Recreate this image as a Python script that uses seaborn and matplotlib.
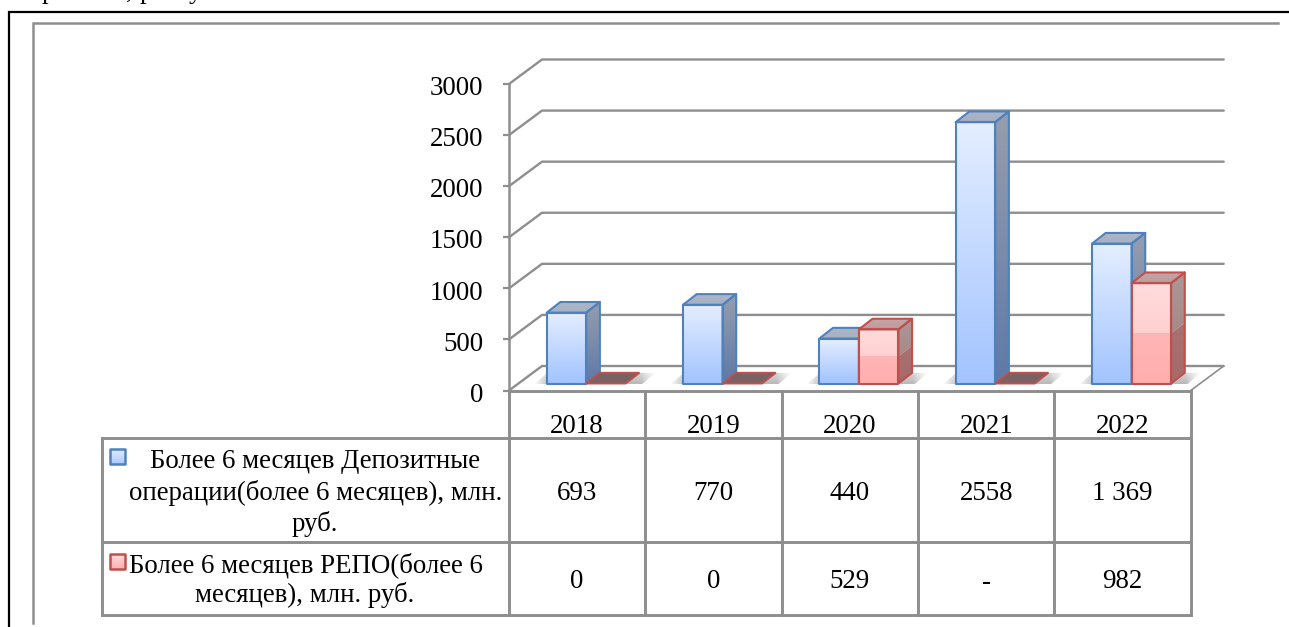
import numpy as np
import pandas as pd
import matplotlib
matplotlib.use("Agg")
import matplotlib.pyplot as plt
from matplotlib.colors import to_rgb
from matplotlib.lines import Line2D
from matplotlib.patches import Polygon
from matplotlib.transforms import IdentityTransform, Affine2D
import seaborn as sns

# ---- data ----
years = ["2018", "2019", "2020", "2021", "2022"]
deposit = [693, 770, 440, 2558, 1369]
repo = [0, 0, 529, 0, 982]
deposit_labels = ["693", "770", "440", "2558", "1 369"]
repo_labels = ["0", "0", "529", "-", "982"]
series = ["Депозитные", "РЕПО"]
y_ticks = [0, 500, 1000, 1500, 2000, 2500, 3000]
legend1 = ["Более 6 месяцев Депозитные", "операции(более 6 месяцев), млн.", "руб."]
legend2 = ["Более 6 месяцев РЕПО(более 6", "месяцев), млн. руб."]

W, H = 1289, 627
GREY = "#8E8E8E"
EDGE_B, EDGE_R = "#4F81BD", "#C0504D"
FS = 19.4

sns.set_theme(style="white")
plt.rcParams["font.family"] = ["Liberation Serif", "DejaVu Serif"]

fig = plt.figure(figsize=(W / 100, H / 100), dpi=100, facecolor="white")
L, R, T, B = 509, 1190.7, 84, 390.5
ax = fig.add_axes([L / W, (H - B) / H, (R - L) / W, (B - T) / H])
ax.patch.set_visible(False)

df = pd.DataFrame({
    "year": years * 2,
    "value": deposit + repo,
    "series": [series[0]] * 5 + [series[1]] * 5,
})
sns.barplot(data=df, x="year", y="value", hue="series", ax=ax, width=0.58, gap=0,
            palette=["white", "white"], saturation=1, legend=False, errorbar=None)
ax.set_xlim(-0.5, 4.5)
ax.set_ylim(0, 3000)
ax.set_xlabel("")
ax.set_ylabel("")
ax.set_yticks(y_ticks)
ax.tick_params(axis="y", length=4.3, width=1.6, color=GREY, pad=14, labelsize=FS, labelcolor="black", left=True)
ax.tick_params(axis="x", length=0, pad=17, labelsize=FS, labelcolor="black")
for lbl in ax.get_yticklabels():
    lbl.set_transform(lbl.get_transform() + Affine2D().translate(0, -1.7))
for s in ["top", "right", "bottom"]:
    ax.spines[s].set_visible(False)
ax.spines["left"].set_color(GREY)
ax.spines["left"].set_linewidth(1.8)

ID = IdentityTransform()
fig.canvas.draw()


def d(x, v, ox=0.0, oy=0.0):
    """data position -> display pixels, plus a pixel offset (oy is upwards)"""
    p = ax.transData.transform((x, v))
    return (p[0] + ox, p[1] + oy)


def pix(x, ytop):
    return (x, H - ytop)


def gradient(poly, top, bottom, z):
    poly = np.asarray(poly)
    x0, y0 = poly.min(axis=0)
    x1, y1 = poly.max(axis=0)
    t = np.linspace(0, 1, 64)[:, None, None]
    arr = (1 - t) * np.array(to_rgb(top))[None, None, :] + t * np.array(to_rgb(bottom))[None, None, :]
    im = ax.imshow(arr, extent=(x0, x1, y0, y1), transform=ID, aspect="auto",
                   origin="upper", zorder=z, interpolation="bilinear")
    im.set_clip_box(fig.bbox)
    im.set_clip_path(Polygon(poly, transform=ID))
    return im


def outline(poly, color, z, lw=1.5):
    ax.add_patch(Polygon(poly, closed=True, fc="none", ec=color, lw=lw, transform=ID,
                         zorder=z, clip_on=False, joinstyle="round"))


def pline(pts, color=GREY, lw=1.5, z=1):
    xs, ys = zip(*pts)
    fig.add_artist(Line2D(xs, ys, color=color, lw=lw, transform=ID, zorder=z,
                          solid_capstyle="projecting", solid_joinstyle="miter"))


# ---- wall and floor of the 3-D box ----
BX, BY = 33, 24.5
for v in y_ticks:
    xs, ys = zip(d(-0.5, v), d(-0.5, v, BX, BY), d(4.5, v, BX, BY))
    ax.add_line(Line2D(xs, ys, color=GREY, lw=1.7, transform=ID, zorder=1, clip_on=False))
xs, ys = zip(d(4.5, 0, BX, BY), d(4.5, 0))
ax.add_line(Line2D(xs, ys, color=GREY, lw=1.2, transform=ID, zorder=1, clip_on=False))

# ---- bars: seaborn places them, the faces are built on the placed bars ----
DX, DY = 9.0, 7.0      # bars stand inside the floor
CX, CY = 13.7, 10.7    # depth of a bar
z = 5


def shadow(x0, x1, y, zz):
    px0, px1 = x0 - 13, x1 + CX + 16
    nx, ny = 240, 24
    xx = np.linspace(0, px1 - px0, nx)
    fade = np.clip(np.minimum(xx, (px1 - px0) - xx) / 15, 0, 1)
    vert = np.linspace(0.55, 1, ny)[:, None]          # row 0 is the far edge
    arr = np.zeros((ny, nx, 4))
    arr[..., :3] = 0.42
    arr[..., 3] = 0.48 * fade[None, :] * vert
    im = ax.imshow(arr, extent=(px0, px1, y - 1, y + CY), transform=ID, aspect="auto",
                   origin="upper", zorder=zz, interpolation="bilinear")
    im.set_clip_box(fig.bbox)
    im.set_clip_path(Polygon([(px0, y - 1), (px1 - CX, y - 1), (px1, y + CY), (px0 + CX, y + CY)], transform=ID))


bars_b = list(ax.containers[0])
bars_r = list(ax.containers[1])
for i in range(len(years)):
    b0, r0 = bars_b[i], bars_r[i]
    base = d(b0.get_x(), 0, DX, DY)
    shadow(base[0], d(r0.get_x() + r0.get_width(), 0, DX, DY)[0], base[1], z)
    z += 1
    for bar, col in ((b0, EDGE_B), (r0, EDGE_R)):
        xa, xb, h = bar.get_x(), bar.get_x() + bar.get_width(), bar.get_height()
        bar.set_visible(False)
        fl = d(xa, 0, DX, DY); fr = d(xb, 0, DX, DY)
        tl = d(xa, h, DX, DY); tr = d(xb, h, DX, DY)
        ofs = lambda p: (p[0] + CX, p[1] + CY)
        front = [fl, fr, tr, tl]
        side = [fr, ofs(fr), ofs(tr), tr]
        top = [tl, tr, ofs(tr), ofs(tl)]
        if h == 0:
            ax.add_patch(Polygon(top, fc="#7A6164", ec=col, lw=1.4, transform=ID, zorder=z, clip_on=False))
            z += 1
            continue
        if col == EDGE_B:
            gradient(side, "#979EAE", "#5F79A8", z)
            gradient(front, "#E4EEFF", "#A3C4FF", z)
            gradient(top, "#ADB6C8", "#A6B0C4", z)
        else:
            ml = d(xa, h / 2, DX, DY); mr = d(xb, h / 2, DX, DY)
            gradient([mr, ofs(mr), ofs(tr), tr], "#AE9898", "#A78888", z)
            gradient([fr, ofs(fr), ofs(mr), mr], "#AB7070", "#A56A6A", z)
            gradient([ml, mr, tr, tl], "#FFDCDC", "#FFD0D0", z)
            gradient([fl, fr, mr, ml], "#FFB6B6", "#FFAEAE", z)
            gradient(top, "#C4A6A6", "#BD9C9C", z)
        outline(side, col, z + 0.1)
        outline(top, col, z + 0.1)
        outline(front, col, z + 0.2)
        z += 1

# ---- outer frames ----
pline([pix(9, 627), pix(9, 11.5), pix(1289, 11.5)], color="black", lw=1.6, z=3)
pline([pix(33, 623), pix(33, 23), pix(1278, 23)], color=GREY, lw=1.8, z=3)

# ---- table grid ----
TL = 102
rows = [391, 438, 542, 615]
cols = [d(k - 0.5, 0)[0] for k in range(len(years) + 1)]
for c in cols:
    pline([(c, H - rows[0]), (c, H - rows[3])], lw=2.1, z=3)
pline([pix(TL, rows[1]), pix(TL, rows[3])], lw=2.1, z=3)
pline([(cols[0], H - rows[0]), (cols[-1], H - rows[0])], lw=2.1, z=3)
for r in rows[1:]:
    pline([pix(TL, r), (cols[-1], H - r)], lw=2.1, z=3)


def ftext(x, ytop, s):
    fig.text(x / W, (H - ytop) / H, s, ha="center", va="center_baseline", fontsize=FS, color="black")


for i in range(len(years)):
    cx = d(i, 0)[0]
    ftext(cx, 491, deposit_labels[i])
    ftext(cx, 579, repo_labels[i])

for s, y, x in zip(legend1, (459, 490, 521), (315, 316, 315)):
    ftext(x, y, s)
for s, y, x in zip(legend2, (562, 592), (306, 305)):
    ftext(x, y, s)


# legend keys
def key(x0, y0, top, bottom, col):
    poly = [pix(x0, y0), pix(x0 + 15, y0), pix(x0 + 15, y0 + 15), pix(x0, y0 + 15)]
    gradient(poly, top, bottom, 40)
    outline(poly, col, 41, lw=1.8)


key(110, 449, "#E4EEFF", "#A9C8FF", EDGE_B)
key(110, 554, "#FFDCDC", "#FFAEAE", EDGE_R)

# clipped line of the page text above the frame (only the descenders are in the picture)
for s, x in (("р", 48), (",", 129), ("р", 146), ("у", 195)):
    fig.text(x / W, (H + 2) / H, s, ha="center", va="baseline", fontsize=FS, color="black", clip_on=False)

fig.savefig("out.png", dpi=100, facecolor="white")
